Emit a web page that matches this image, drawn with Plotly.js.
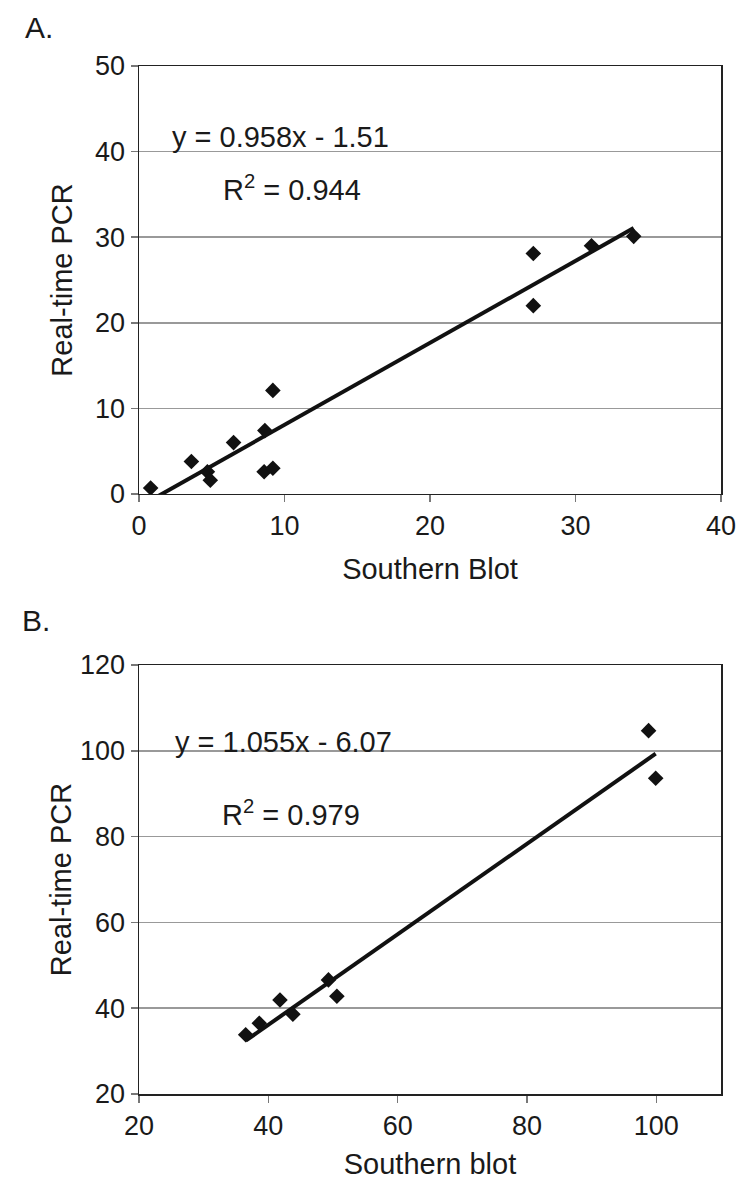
<!DOCTYPE html>
<html>
<head>
<meta charset="utf-8">
<script src="https://cdn.plot.ly/plotly-3.0.1.min.js"></script>
<style>html,body{margin:0;padding:0;background:#fff;}#chart{width:756px;height:1190px;}</style>
</head>
<body>
<div id="chart"></div>
<script>
// Panel A data
const aSouthern = [0.8, 3.6, 4.7, 4.9, 6.5, 8.6, 8.65, 9.2, 9.2, 27.1, 27.1, 31.1, 34.0];
const aPCR      = [0.7, 3.8, 2.6, 1.6, 6.0, 2.6, 7.4, 3.0, 12.1, 28.1, 22.0, 29.0, 30.1];
const aFit = {slope: 0.958, intercept: -1.51, r2: 0.944};
// Panel B data
const bSouthern = [36.5, 38.6, 41.8, 43.8, 49.3, 50.6, 98.8, 99.9];
const bPCR      = [33.8, 36.5, 41.9, 38.6, 46.6, 42.8, 104.7, 93.6];
const bFit = {slope: 1.055, intercept: -6.07, r2: 0.979};
// Axis tick values
const aXTicks = [0, 10, 20, 30, 40];
const aYTicks = [0, 10, 20, 30, 40, 50];
const bXTicks = [20, 40, 60, 80, 100];
const bYTicks = [20, 40, 60, 80, 100, 120];

function fitLine(xs, fit) {
  const x0 = Math.min(...xs), x1 = Math.max(...xs);
  return {x: [x0, x1], y: [fit.slope * x0 + fit.intercept, fit.slope * x1 + fit.intercept]};
}
const la = fitLine(aSouthern, aFit), lb = fitLine(bSouthern, bFit);

const FONT = 'Liberation Sans, Arial, sans-serif';
const TXT = '#1a1a1a';
const marker = {symbol: 'diamond', size: 12, color: '#111'};
const traces = [
  {x: la.x, y: la.y, mode: 'lines', line: {color: '#111', width: 4}, xaxis: 'x', yaxis: 'y', hoverinfo: 'skip'},
  {x: aSouthern, y: aPCR, mode: 'markers', marker: marker, xaxis: 'x', yaxis: 'y'},
  {x: lb.x, y: lb.y, mode: 'lines', line: {color: '#111', width: 4}, xaxis: 'x2', yaxis: 'y2', hoverinfo: 'skip'},
  {x: bSouthern, y: bPCR, mode: 'markers', marker: marker, xaxis: 'x2', yaxis: 'y2'}
];

function xax(range, ticks, title, anchor, standoff) {
  return {range: range, tickvals: ticks, ticktext: ticks.map(String), anchor: anchor,
    showgrid: false, zeroline: false, showline: true, linecolor: '#222', linewidth: 1.5, mirror: true,
    ticks: 'outside', ticklen: 7, tickcolor: '#777', tickwidth: 1.5,
    tickfont: {family: FONT, size: 27, color: TXT},
    title: {text: title, font: {family: FONT, size: 29, color: TXT}, standoff: standoff}};
}
function yax(range, ticks, domain, anchor, standoff) {
  return {range: range, tickvals: ticks, ticktext: ticks.map(String), domain: domain, anchor: anchor,
    showgrid: true, gridcolor: '#999', gridwidth: 1.5, zeroline: false,
    showline: true, linecolor: '#222', linewidth: 1.5, mirror: true,
    ticks: 'outside', ticklen: 7, tickcolor: '#777', tickwidth: 1.5,
    tickfont: {family: FONT, size: 27, color: TXT},
    title: {text: 'Real-time PCR', font: {family: FONT, size: 29, color: TXT}, standoff: standoff}};
}

const layout = {
  width: 756, height: 1190, showlegend: false,
  paper_bgcolor: '#fff', plot_bgcolor: '#fff',
  margin: {l: 139, r: 35, t: 66, b: 96},
  xaxis: xax([0, 40], aXTicks, 'Southern Blot', 'y', 19),
  yaxis: yax([0, 50], aYTicks, [0.5837, 1], 'x', 14),
  xaxis2: xax([20, 110], bXTicks, 'Southern blot', 'y2', 14),
  yaxis2: yax([20, 120], bYTicks, [0, 0.4173], 'x2', 0),
  annotations: [
    {xref: 'paper', yref: 'paper', x: -0.2, y: 1.037, text: 'A.', showarrow: false, xanchor: 'left', yanchor: 'middle', font: {family: FONT, size: 30, color: TXT}},
    {xref: 'paper', yref: 'paper', x: -0.204, y: 0.461, text: 'B.', showarrow: false, xanchor: 'left', yanchor: 'middle', font: {family: FONT, size: 30, color: TXT}},
    {xref: 'x', yref: 'y', x: 9.7, y: 41.7, text: 'y = ' + aFit.slope.toFixed(3) + 'x - ' + Math.abs(aFit.intercept).toFixed(2), showarrow: false, font: {family: FONT, size: 29, color: TXT}},
    {xref: 'x', yref: 'y', x: 10.5, y: 35.8, text: 'R<sup>2</sup> = ' + aFit.r2.toFixed(3), showarrow: false, font: {family: FONT, size: 29, color: TXT}},
    {xref: 'x2', yref: 'y2', x: 42.3, y: 102.0, text: 'y = ' + bFit.slope.toFixed(3) + 'x - ' + Math.abs(bFit.intercept).toFixed(2), showarrow: false, font: {family: FONT, size: 29, color: TXT}},
    {xref: 'x2', yref: 'y2', x: 43.5, y: 85.5, text: 'R<sup>2</sup> = ' + bFit.r2.toFixed(3), showarrow: false, font: {family: FONT, size: 29, color: TXT}}
  ]
};

Plotly.newPlot('chart', traces, layout, {staticPlot: true, displayModeBar: false});
</script>
</body>
</html>
